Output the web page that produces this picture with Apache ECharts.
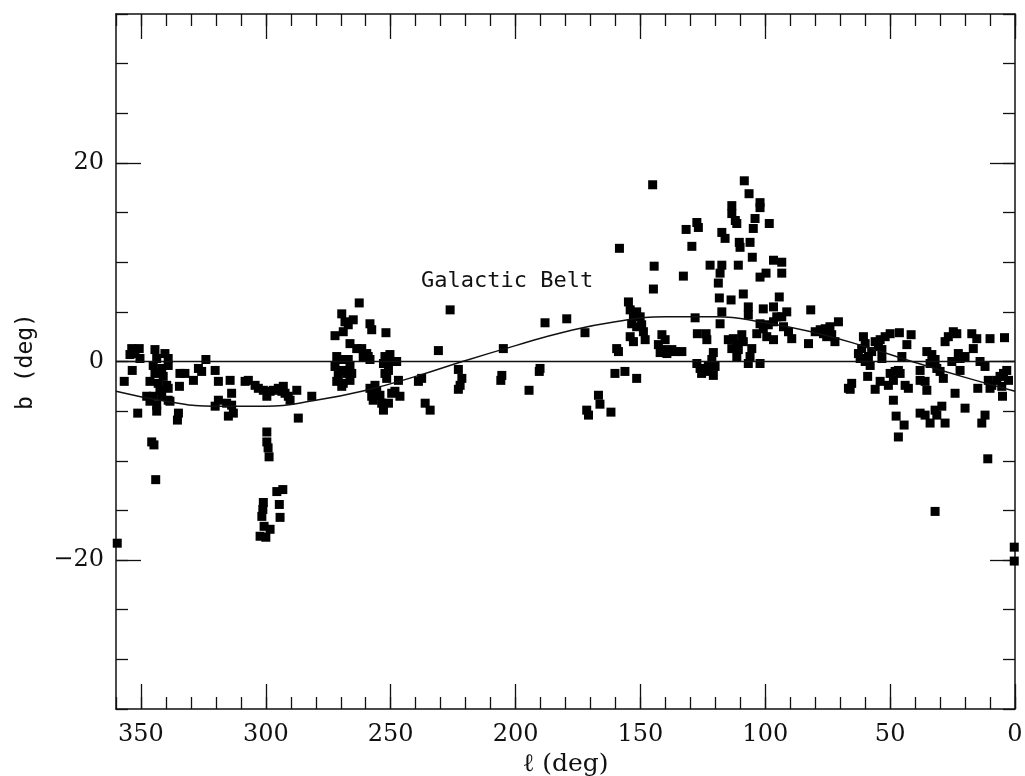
<!DOCTYPE html>
<html>
<head>
<meta charset="utf-8">
<script src="https://cdn.jsdelivr.net/npm/echarts@6/dist/echarts.min.js"></script>
<style>
  html, body { margin: 0; padding: 0; background: #fff; }
  #chart { width: 1025px; height: 776px; }
</style>
</head>
<body>
<div id="chart"></div>
<script>
// tick positions
var xMajor = [0, 50, 100, 150, 200, 250, 300, 350]
var yMajor = [-20, 0, 20]

// galactic belt curve (l, b)
var beltL = [360, 340, 320, 300, 280, 260, 240, 220, 200, 180, 160, 140, 120, 100, 80, 60, 40, 20, 0]
var beltB = [-3.0, -4.0, -4.5, -4.5, -3.9, -2.9, -1.5, 0.1, 1.6, 3.0, 4.0, 4.5, 4.5, 3.9, 2.9, 1.5, -0.1, -1.6, -3.0]

// sources [l, b] grouped by longitude
var group280to360 = [
  [353.7, 1.3], [350.7, 1.3], [352.4, 0.8], [350.4, 0.3], [354.4, 0.7], [353.5, -0.9], [356.7, -2.0], [351.3, -5.2],
  [345.7, -8.1], [344.8, -8.4], [344.1, -11.9], [359.5, -18.3],
  [344.4, 1.2], [343.7, 0.3], [340.4, 0.8], [339.1, 0.3], [345.1, -0.4], [341.7, -0.7], [339.1, -0.4], [344.4, -1.2],
  [341.1, -1.5], [346.4, -2.0], [343.1, -2.2], [339.7, -2.4], [339.1, -2.7], [342.4, -2.9], [347.7, -3.5], [345.1, -3.5],
  [341.7, -3.5], [339.1, -3.9], [346.4, -4.0], [343.7, -4.4], [343.7, -5.0], [338.4, -4.0], [335.0, -5.2], [335.4, -5.9],
  [334.4, -1.2], [332.4, -1.2], [334.6, -2.5], [329.0, -1.9], [327.0, -0.7], [324.0, 0.2], [325.7, -1.0], [320.3, -0.9],
  [319.0, -2.0], [314.3, -1.9], [313.7, -3.2], [319.0, -3.9], [320.3, -4.5], [315.7, -4.2], [313.7, -4.4], [315.0, -5.5],
  [313.0, -5.2], [308.3, -2.0], [307.0, -1.9], [304.3, -2.4], [303.0, -2.7], [301.0, -2.9], [299.6, -3.5], [298.3, -3.0],
  [297.0, -2.9], [295.0, -2.7], [293.6, -3.0], [293.0, -2.5], [292.3, -3.2], [291.0, -3.5], [290.3, -3.9], [287.6, -2.9],
  [287.0, -5.7], [281.6, -3.5],
  [299.6, -7.1], [299.6, -8.1], [299.1, -8.7], [298.7, -9.6],
  [295.6, -13.1], [293.2, -12.9], [294.6, -14.4], [294.3, -15.7], [301.0, -14.2], [301.2, -14.9], [301.6, -15.6],
  [300.7, -16.6], [298.3, -16.9], [302.3, -17.6], [300.0, -17.7]
]
var group200to280 = [
  [262.6, 5.9], [269.6, 4.8], [268.3, 4.0], [267.0, 3.7], [265.0, 4.2], [272.3, 2.6], [269.0, 3.0], [258.3, 3.8],
  [257.6, 3.2], [251.9, 2.9], [266.3, 1.8], [263.6, 1.3], [261.6, 1.3], [259.6, 0.8], [259.0, 0.5], [261.0, 0.5],
  [258.3, 0.2], [271.6, 0.5], [270.3, 0.2], [268.3, 0.2], [267.0, 0.2], [266.3, -0.5], [269.0, -0.9], [271.0, -1.4],
  [267.6, -1.2], [265.6, -1.2], [271.6, -2.0], [269.0, -2.2], [266.3, -1.9], [269.6, -2.5], [272.3, -0.5],
  [252.3, 0.5], [250.3, 0.7], [249.6, 0.0], [247.6, 0.0], [252.9, -0.2], [250.9, -0.9], [252.3, -1.2], [251.6, -1.7],
  [246.9, -1.9], [256.3, -2.4], [258.3, -2.7], [255.6, -3.0], [257.6, -3.5], [254.3, -3.4], [257.0, -3.9], [253.6, -4.2],
  [252.9, -4.9], [250.9, -4.2], [249.6, -3.2], [246.3, -3.5], [248.3, -3.0],
  [237.6, -1.7], [238.9, -2.0], [236.2, -4.2], [234.2, -4.9], [230.9, 1.1], [226.2, 5.2],
  [222.9, -0.8], [221.5, -1.7], [222.2, -2.4], [222.9, -2.8], [204.9, 1.3], [205.5, -1.4], [205.9, -1.9]
]
var group140to200 = [
  [194.6, -2.9], [190.2, -0.7], [190.5, -1.0], [188.2, 3.9], [179.5, 4.3], [172.2, 2.9], [166.8, -3.4], [171.5, -4.9],
  [170.8, -5.4], [166.2, -4.3], [161.8, -5.1], [158.4, 11.4], [145.1, 17.8], [144.5, 9.6], [144.8, 7.3],
  [154.8, 6.0], [154.1, 5.2], [151.5, 5.0], [152.8, 4.5], [150.1, 4.5], [153.5, 3.8], [151.5, 3.5], [149.5, 3.7],
  [148.8, 3.0], [154.1, 2.5], [152.8, 2.0], [148.1, 2.2], [141.4, 2.7], [140.1, 2.2], [142.8, 1.7], [140.8, 1.2],
  [142.1, 0.9], [159.5, 1.3], [158.8, 1.0], [160.2, -1.2], [156.2, -1.0], [151.5, -1.7]
]
var group80to140 = [
  [132.8, 8.6], [131.7, 13.3], [127.4, 14.0], [126.8, 13.5], [129.4, 11.6], [122.1, 9.7], [117.4, 13.0], [116.1, 12.4],
  [117.4, 9.7], [118.1, 8.9], [118.8, 7.9], [113.4, 15.7], [113.4, 14.9], [112.0, 14.2], [111.4, 13.9], [108.4, 18.2],
  [106.5, 16.9], [102.1, 16.0], [102.1, 15.5], [104.1, 14.4], [104.8, 13.4], [98.4, 13.9], [110.4, 12.0], [110.1, 11.5],
  [106.1, 12.0], [105.2, 10.5], [110.8, 9.7], [96.7, 10.2], [93.4, 10.0], [93.4, 8.9], [99.7, 8.9], [102.1, 8.5],
  [108.8, 6.8], [113.7, 6.2], [118.4, 6.4], [94.4, 6.5], [81.8, 5.2],
  [137.4, 1.2], [136.1, 1.0], [139.4, 0.8], [133.4, 1.0], [128.1, 4.4], [127.2, 2.8], [123.7, 2.8], [123.4, 2.2],
  [117.4, 5.0], [118.1, 3.8], [120.8, 0.9], [121.4, 0.2], [127.4, -0.2], [126.1, -0.7], [124.1, -1.0], [122.8, -0.5],
  [120.8, -1.4], [125.5, -1.2], [120.1, -0.5], [114.8, 2.2], [112.8, 2.3], [111.4, 1.8], [109.4, 2.7], [108.8, 2.0],
  [113.4, 1.3], [110.8, 1.2], [111.4, 0.5], [106.8, 5.5], [106.8, 4.7], [105.4, 1.3], [106.1, 0.5], [106.8, -0.2],
  [102.1, -0.2], [100.8, 5.3], [96.7, 5.5], [95.4, 4.5], [93.4, 4.5], [96.7, 4.0], [100.8, 3.3], [103.4, 2.8],
  [99.4, 2.5], [96.7, 2.2], [92.7, 3.5], [91.4, 5.0], [90.7, 3.0], [89.4, 2.3], [102.1, 3.8], [98.8, 3.7], [82.7, 1.8]
]
var group0to80 = [
  [80.0, 3.0], [78.0, 3.2], [76.0, 3.3], [74.1, 3.5], [70.7, 4.0], [75.4, 2.5], [72.1, 2.0], [76.7, 2.8], [73.4, 2.7],
  [66.7, -2.7], [60.7, 2.5], [60.0, 1.8], [61.4, 1.3], [62.7, 0.8], [62.0, 0.3], [60.0, 0.0], [58.7, 0.5], [57.4, 1.0],
  [58.0, -0.4], [56.0, 2.0], [54.0, 2.2], [52.0, 2.5], [50.0, 2.8], [53.3, 1.2], [53.3, 0.3], [54.7, 1.5], [46.3, 2.9],
  [43.3, 1.7], [41.6, 2.7], [45.3, 0.5], [65.4, -2.2], [66.0, -2.8], [59.0, -1.5], [56.0, -2.8], [54.0, -2.0],
  [50.7, -2.4], [48.7, -1.9], [50.0, -1.2], [48.0, -1.0], [46.7, -0.9], [44.0, -2.4], [42.7, -2.7], [46.0, -1.2],
  [48.7, -3.9], [47.6, -5.5], [44.4, -6.4], [46.7, -7.6], [38.0, -0.9], [38.0, -1.9], [36.0, -2.0], [35.3, -2.9],
  [35.3, 1.0], [33.3, 0.7], [32.0, 0.2], [34.0, -0.2], [31.3, -0.7], [30.0, -1.0], [28.7, -1.7], [28.0, 2.0],
  [26.7, 2.5], [24.7, 3.0], [23.3, 2.8], [25.3, 0.0], [22.7, 0.8], [22.0, 0.3], [20.0, 0.5], [22.0, -0.9],
  [17.3, 2.8], [15.3, 2.3], [16.7, 1.3], [14.0, 0.0], [12.0, -0.5], [10.0, 2.3], [4.2, 2.4], [10.7, -1.9], [9.3, -2.4],
  [7.3, -1.9], [6.0, -1.5], [4.6, -1.2], [3.3, -0.9], [2.6, -1.9], [5.3, -2.5], [5.0, -3.5], [10.0, -2.7], [14.9, -2.7],
  [24.0, -3.2], [20.0, -4.7], [38.0, -5.2], [36.0, -5.4], [34.0, -6.2], [32.0, -4.9], [31.3, -5.4], [29.3, -4.5],
  [28.0, -6.2], [12.0, -5.4], [13.3, -6.2], [10.9, -9.8], [32.0, -15.1], [0.3, -18.7], [0.3, -20.1]
]

var labelFont = 'DejaVu Serif'
var monoFont = 'DejaVu Sans Mono'

function minorX(pos) {
  return {
    type: 'value', position: pos, inverse: true, min: 0, max: 360, interval: 10,
    axisLine: { show: true, onZero: false, lineStyle: { color: '#111', width: 1.5 } },
    axisTick: { show: true, inside: true, length: 12, lineStyle: { color: '#111', width: 1.3 } },
    axisLabel: { show: false },
    splitLine: { show: false }
  }
}
function majorX(pos, withLabels) {
  return {
    type: 'value', position: pos, inverse: true, min: 0, max: 360,
    axisLine: { show: false, onZero: false },
    axisTick: { show: true, inside: true, length: 25, customValues: xMajor, lineStyle: { color: '#111', width: 1.3 } },
    axisLabel: {
      show: withLabels, customValues: xMajor, margin: 14,
      fontFamily: labelFont, fontSize: 24, color: '#111'
    },
    splitLine: { show: false },
    name: withLabels ? '\u2113 (deg)' : '',
    nameLocation: 'middle',
    nameGap: 37,
    nameTextStyle: { fontFamily: labelFont, fontSize: 25, color: '#111' }
  }
}
function minorY(pos) {
  return {
    type: 'value', position: pos, min: -35, max: 35, interval: 5,
    axisLine: { show: true, onZero: false, lineStyle: { color: '#111', width: 1.5 } },
    axisTick: { show: true, inside: true, length: 12, lineStyle: { color: '#111', width: 1.3 } },
    axisLabel: { show: false },
    splitLine: { show: false }
  }
}
function majorY(pos, withLabels) {
  return {
    type: 'value', position: pos, min: -35, max: 35,
    axisLine: { show: false, onZero: false },
    axisTick: { show: true, inside: true, length: 25, customValues: yMajor, lineStyle: { color: '#111', width: 1.3 } },
    axisLabel: {
      show: withLabels, customValues: yMajor, margin: 12,
      fontFamily: labelFont, fontSize: 24, color: '#111',
      formatter: function(v) { return v < 0 ? '\u2212' + Math.abs(v) : String(v) }
    },
    splitLine: { show: false },
    name: withLabels ? 'b (deg)' : '',
    nameLocation: 'middle',
    nameRotate: 90,
    nameGap: 78,
    nameTextStyle: { fontFamily: monoFont, fontSize: 23, color: '#111' }
  }
}

var chart = echarts.init(document.getElementById('chart'), null, { renderer: 'canvas' })

var sources = group280to360.concat(group200to280, group140to200, group80to140, group0to80)
var belt = beltL.map(function(l, i) { return [l, beltB[i]] })

chart.setOption({
  animation: false,
  backgroundColor: '#fff',
  grid: { left: 116, right: 10, top: 14, bottom: 67, containLabel: false, outerBoundsMode: 'none' },
  xAxis: [minorX('bottom'), majorX('bottom', true), minorX('top'), majorX('top', false)],
  yAxis: [minorY('left'), majorY('left', true), minorY('right'), majorY('right', false)],
  graphic: [{
    type: 'text', left: 421, top: 270,
    style: { text: 'Galactic Belt', font: '22px "DejaVu Sans Mono"', fill: '#111' }
  }],
  series: [
    {
      type: 'line', xAxisIndex: 0, yAxisIndex: 0,
      data: [[360, 0], [0, 0]],
      symbol: 'none', lineStyle: { color: '#111', width: 1.3 }, silent: true
    },
    {
      type: 'line', xAxisIndex: 0, yAxisIndex: 0,
      data: belt, smooth: true,
      symbol: 'none', lineStyle: { color: '#111', width: 1.5 }, silent: true
    },
    {
      type: 'scatter', xAxisIndex: 0, yAxisIndex: 0,
      data: sources,
      symbol: 'rect', symbolSize: 9,
      itemStyle: { color: '#000', opacity: 1 },
      clip: false
    }
  ]
})
</script>
</body>
</html>
